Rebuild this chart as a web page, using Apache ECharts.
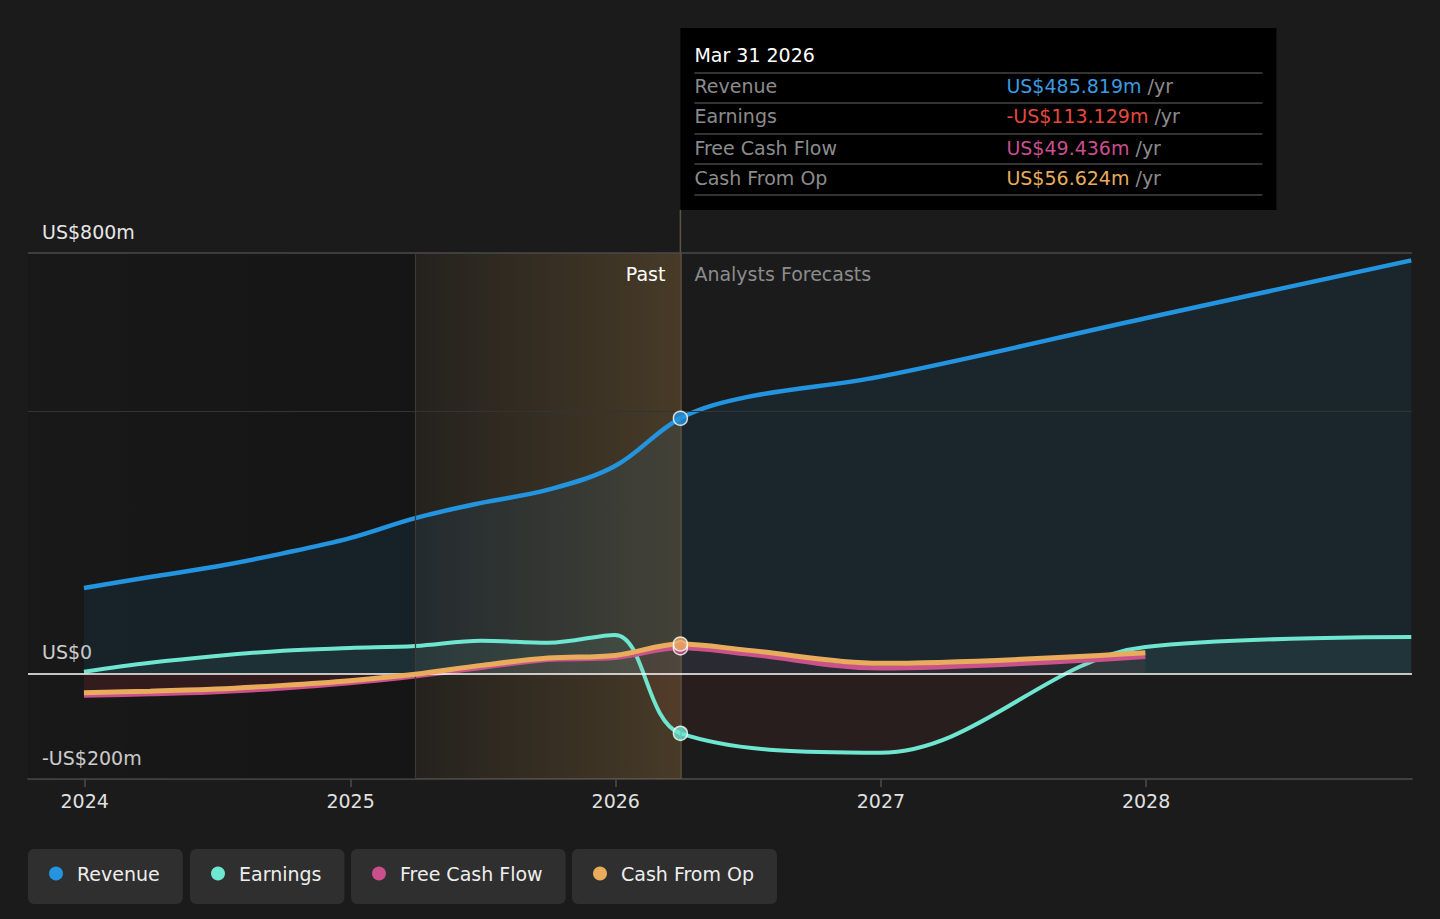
<!DOCTYPE html>
<html>
<head>
<meta charset="utf-8">
<script src="https://cdn.jsdelivr.net/npm/echarts/dist/echarts.min.js"></script>
<style>
html,body{margin:0;padding:0;background:#1b1b1b;}
#c{width:1440px;height:919px;}
</style>
</head>
<body>
<div id="c"></div>
<script>
// ---------- data (US$ millions) ----------
const pastDates = ['2023-12-31','2024-03-31','2024-06-30','2024-09-30','2024-12-31','2025-03-31','2025-06-30','2025-09-30','2025-12-31','2026-03-31'];
const revenuePast  = [163, 184, 204, 229, 258, 296, 325, 350, 395, 485.819];
const earningsPast = [4, 21, 34, 44, 49, 53, 63, 59, 74, -113.129];
const fcfPast      = [-41, -38, -34, -27, -17, -4, 12, 27, 31, 49.436];
const cfoPast      = [-36, -33, -29, -22, -13, -1, 16, 30, 35, 56.624];

const forecastDates = ['2026-06-30','2026-12-31','2027-12-31','2028-12-31'];
const revenueFc  = [526, 565, 676, 786];
const earningsFc = [null, -150, 51, 70];
const fcfFc      = [38, 11, 33, null];
const cfoFc      = [45, 20, 40, null];

const seriesNames = ['Revenue','Earnings','Free Cash Flow','Cash From Op'];
const yTickLabels = {'-200':'-US$200m','0':'US$0','800':'US$800m'};
const gridValues = [800, 500];
const pastStart = '2025-03-31';
const todayDate = '2026-03-31';
const tooltipTitle = 'Mar 31 2026';
const xMin = '2023-10-15', xMax = '2029-01-01';

// ---------- styles ----------
const colors = ['#2394df','#6ee6d0','#c94f8d','#e8ac5c'];
const valueColors = ['#3a9be0','#e5483f','#c94f8d','#e8ac5c'];
const FONT = 'DejaVu Sans';

function pairs(dates, vals){ return dates.map((d,i)=>[d, vals[i]]).filter(p=>p[1]!=null); }
const revenueData  = pairs(pastDates, revenuePast).concat(pairs(forecastDates, revenueFc));
const earningsData = pairs(pastDates, earningsPast).concat(pairs(forecastDates, earningsFc));
const fcfData      = pairs(pastDates, fcfPast).concat(pairs(forecastDates, fcfFc));
const cfoData      = pairs(pastDates, cfoPast).concat(pairs(forecastDates, cfoFc));
const lastPast = [revenuePast, earningsPast, fcfPast, cfoPast].map(a=>a[a.length-1]);

function fmt(v){ const s = 'US$' + Math.abs(v).toFixed(3) + 'm'; return v < 0 ? '-' + s : s; }

const chart = echarts.init(document.getElementById('c'), null, {renderer:'svg'});

function lineSeries(id, name, data, color, width, z){
  return {
    id, name, type:'line', data, z,
    smooth:0.35, symbol:'none',
    lineStyle:{color, width},
    itemStyle:{color},
    areaStyle:{color:'rgba(0,0,0,0)'},
    emphasis:{disabled:true}
  };
}

const legendLefts = [28, 190, 351, 572];
const legends = seriesNames.map((n,i)=>({
  data:[n], left:legendLefts[i], top:849, orient:'horizontal',
  backgroundColor:'#2f2f2f', borderRadius:6, padding:[15,23,21,21],
  icon:'circle', itemWidth:14, itemHeight:14, itemGap:0,
  selectedMode:false,
  textStyle:{color:'#eeeeee', fontSize:19, fontFamily:FONT, padding:[0,0,0,9]}
}));

const option = {
  backgroundColor:'#1b1b1b',
  animation:false,
  textStyle:{fontFamily:FONT},
  legend: legends,
  grid:{left:28, right:28, top:253, bottom:140, containLabel:false},
  xAxis:{
    type:'time', min:xMin, max:xMax,
    minInterval:365*24*3600*1000, splitNumber:5,
    axisLine:{show:true, onZero:false, lineStyle:{color:'#4d4d4d', width:1.5}},
    axisTick:{show:true, length:8, lineStyle:{color:'#4d4d4d', width:1.5}},
    splitLine:{show:false},
    axisLabel:{color:'#e0e0e0', fontSize:19, fontFamily:FONT, margin:12,
      showMinLabel:false, showMaxLabel:false,
      formatter: v => String(new Date(v).getFullYear())}
  },
  yAxis:{
    type:'value', min:-200, max:800, interval:100,
    axisLine:{show:false}, axisTick:{show:false}, splitLine:{show:false},
    axisLabel:{inside:true, margin:14, color:'#e6e6e6', fontSize:19, fontFamily:FONT,
      verticalAlign:'bottom', padding:[0,0,12,0],
      formatter: v => yTickLabels[String(v)] || ''}
  },
  series:[
    {
      id:'bg', type:'line', data:[[xMin, 0]], symbol:'none', z:1,
      lineStyle:{width:0}, silent:true,
      markArea:{silent:true, data:[
        [{xAxis:xMin, itemStyle:{color:new echarts.graphic.LinearGradient(0,0,1,0,[
          {offset:0,color:'rgba(0,0,0,0.10)'},{offset:1,color:'rgba(0,0,0,0.22)'}])}},{xAxis:pastStart}],
        [{xAxis:pastStart, itemStyle:{color:new echarts.graphic.LinearGradient(0,0,1,0,[
          {offset:0,color:'rgba(212,160,80,0.05)'},{offset:1,color:'rgba(212,160,80,0.24)'}])}},{xAxis:todayDate}]
      ]},
      markLine:{silent:true, symbol:'none', label:{show:false}, data:[
        {yAxis:gridValues[0], lineStyle:{color:'#4a4a4a', width:1.5, type:'solid'}},
        {yAxis:gridValues[1], lineStyle:{color:'#333333', width:1.2, type:'solid'}},
        {xAxis:pastStart, lineStyle:{color:'#3d3a33', width:1.2, type:'solid'}},
        {xAxis:todayDate, lineStyle:{color:'#5e5441', width:1.5, type:'solid'}}
      ]}
    },
    lineSeries('rev', seriesNames[0], revenueData, colors[0], 4.5, 2),
    lineSeries('earn', seriesNames[1], earningsData, colors[1], 4, 3),
    lineSeries('fcf', seriesNames[2], fcfData, colors[2], 5, 4),
    lineSeries('cfo', seriesNames[3], cfoData, colors[3], 5, 5),
    {
      id:'zero', type:'line', data:[[xMin,0]], symbol:'none', z:6, silent:true,
      lineStyle:{width:0},
      markLine:{silent:true, symbol:'none', label:{show:false}, data:[
        {yAxis:0, lineStyle:{color:'#ffffff', width:1.6, type:'solid'}}
      ]}
    },
    {
      id:'markers', type:'scatter', z:10, symbolSize:14, silent:true,
      data: lastPast.map((v,i)=>({value:[todayDate, v], itemStyle:{color:colors[i], borderColor:'#ffffff', borderWidth:1.5}}))
    }
  ]
};
chart.setOption(option);

// ---------- sign-dependent area fills & overlay texts ----------
const yTop = chart.convertToPixel({yAxisIndex:0}, 800);
const yBot = chart.convertToPixel({yAxisIndex:0}, -200);
const yZero = chart.convertToPixel({yAxisIndex:0}, 0);
const off = (yZero - yTop)/(yBot - yTop);
function signFill(pos, neg){
  return new echarts.graphic.LinearGradient(0, yTop, 0, yBot, [
    {offset:0,color:pos},{offset:off,color:pos},{offset:off,color:neg},{offset:1,color:neg}], true);
}
const xToday = chart.convertToPixel({xAxisIndex:0}, todayDate);

const rowY = [86, 116, 148, 178];
const sepY = [73, 103, 134, 164, 195];
const tipLeft = xToday, tipW = 596, tipTop = 28, tipH = 182;
const tipChildren = [
  {type:'rect', shape:{x:0, y:0, width:tipW, height:tipH}, style:{fill:'#000000'}},
  {type:'text', x:14, y:55-tipTop, style:{text:tooltipTitle, fill:'#ffffff', font:'19px "DejaVu Sans"', verticalAlign:'middle'}}
];
sepY.forEach(y=>tipChildren.push({type:'line', shape:{x1:14, y1:y-tipTop, x2:tipW-14, y2:y-tipTop}, style:{stroke:'#444444', lineWidth:1.5}}));
seriesNames.forEach((n,i)=>{
  tipChildren.push({type:'text', x:14, y:rowY[i]-tipTop, style:{text:n, fill:'#8c8c8c', font:'19px "DejaVu Sans"', verticalAlign:'middle'}});
  tipChildren.push({type:'text', x:326, y:rowY[i]-tipTop, style:{
    text:'{v|' + fmt(lastPast[i]) + '}{u| /yr}', verticalAlign:'middle',
    rich:{v:{fill:valueColors[i], fontSize:19, fontFamily:FONT}, u:{fill:'#8c8c8c', fontSize:19, fontFamily:FONT}}
  }});
});

chart.setOption({
  series:[
    {id:'earn', areaStyle:{color:signFill('rgba(110,230,208,0.11)','rgba(225,70,70,0.10)')}},
    {id:'rev', areaStyle:{color:'rgba(35,148,223,0.13)'}},
    {id:'fcf', areaStyle:{color:signFill('rgba(201,79,141,0.06)','rgba(225,50,70,0.12)')}},
    {id:'cfo', areaStyle:{color:signFill('rgba(232,172,92,0.05)','rgba(225,60,60,0.08)')}}
  ],
  graphic:[
    {type:'line', z:1, shape:{x1:xToday, y1:tipTop+tipH, x2:xToday, y2:yTop}, style:{stroke:'#5e5441', lineWidth:1.5}},
    {type:'group', x:tipLeft, y:tipTop, z:100, children:tipChildren},
    {type:'text', x:xToday-15, y:274, z:50, style:{text:'Past', fill:'#ffffff', font:'19px "DejaVu Sans"', align:'right', verticalAlign:'middle'}},
    {type:'text', x:xToday+14, y:274, z:50, style:{text:'Analysts Forecasts', fill:'#8c8c8c', font:'19px "DejaVu Sans"', align:'left', verticalAlign:'middle'}}
  ]
});
</script>
</body>
</html>
